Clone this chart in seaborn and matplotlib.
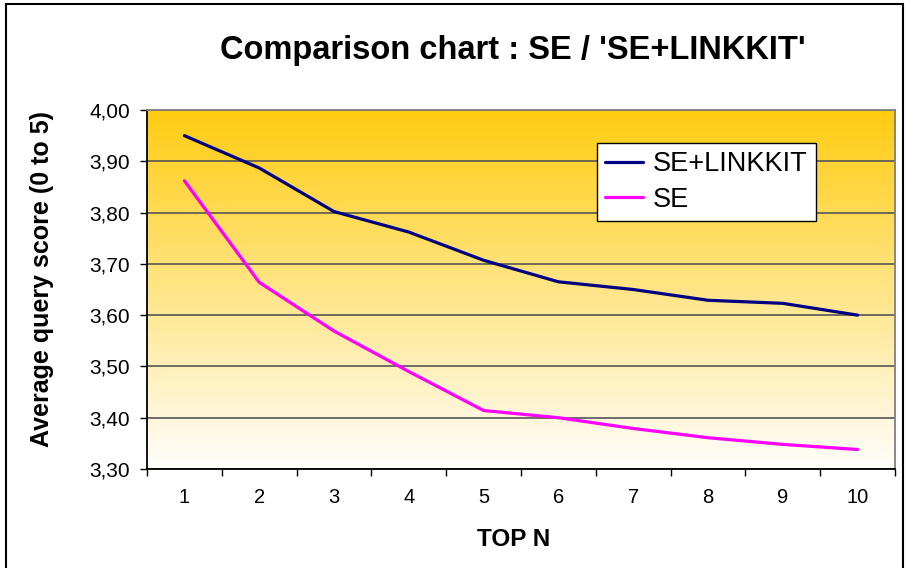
import numpy as np
import pandas as pd
import matplotlib
matplotlib.use("Agg")
import matplotlib.pyplot as plt
from matplotlib.colors import LinearSegmentedColormap
from matplotlib.patches import Rectangle
from matplotlib.ticker import FixedLocator, FixedFormatter
import seaborn as sns

# Average query score per TOP N cut-off
top_n = [1, 2, 3, 4, 5, 6, 7, 8, 9, 10]
se_linkkit = [3.950, 3.887, 3.802, 3.762, 3.707, 3.665, 3.650, 3.629, 3.623, 3.600]
se = [3.862, 3.664, 3.569, 3.490, 3.414, 3.400, 3.379, 3.361, 3.348, 3.338]

series_names = ["SE+LINKKIT", "SE"]
y_ticks = [3.30, 3.40, 3.50, 3.60, 3.70, 3.80, 3.90, 4.00]
y_tick_labels = ["3,30", "3,40", "3,50", "3,60", "3,70", "3,80", "3,90", "4,00"]

df = pd.DataFrame({
    "TOP N": top_n * 2,
    "score": se_linkkit + se,
    "series": [series_names[0]] * len(top_n) + [series_names[1]] * len(top_n),
})

sns.set_style("white")
plt.rcParams["font.family"] = ["Liberation Sans", "DejaVu Sans"]
plt.rcParams.update({"text.color": "black", "axes.labelcolor": "black",
                     "xtick.color": "black", "ytick.color": "black"})

fig = plt.figure(figsize=(9.13, 5.68), dpi=100)
ax = fig.add_axes([147 / 913, 1 - 469 / 568, 748 / 913, 359 / 568])

# Gold-to-white vertical gradient behind the plot
grad = np.linspace(0, 1, 256).reshape(-1, 1)
cmap = LinearSegmentedColormap.from_list("gold", ["#FFFEFC", "#FFCC11"])
ax.imshow(grad, extent=[0.5, 10.5, 3.30, 4.00], origin="lower",
          aspect="auto", cmap=cmap, zorder=0, interpolation="bilinear")

sns.lineplot(data=df, x="TOP N", y="score", hue="series", hue_order=series_names,
             palette={"SE+LINKKIT": "#000080", "SE": "#FF00FF"},
             linewidth=2.3, ax=ax, legend=True, zorder=3)

ax.set_xlim(0.5, 10.5)
ax.set_ylim(3.30, 4.00)

# Category labels at centres, tick marks at the category boundaries
ax.xaxis.set_major_locator(FixedLocator(top_n))
ax.xaxis.set_major_formatter(FixedFormatter([str(v) for v in top_n]))
ax.xaxis.set_minor_locator(FixedLocator(np.arange(0.5, 11, 1.0)))
ax.tick_params(axis="x", which="major", length=0, pad=14, labelsize=14.5)
ax.tick_params(axis="x", which="minor", length=5, width=1, color="black",
               direction="out", bottom=True)

ax.yaxis.set_major_locator(FixedLocator(y_ticks))
ax.yaxis.set_major_formatter(FixedFormatter(y_tick_labels))
ax.tick_params(axis="y", which="major", length=5, width=1, color="black",
               direction="out", left=True, pad=7, labelsize=15)

ax.grid(axis="y", color="#555555", linewidth=1.2)
ax.grid(axis="x", visible=False)
ax.set_axisbelow("line")

for side in ["left", "bottom"]:
    ax.spines[side].set_color("black")
    ax.spines[side].set_linewidth(1.3)
for side in ["top", "right"]:
    ax.spines[side].set_color("#808080")
    ax.spines[side].set_linewidth(1.3)

ax.set_xlabel("")
ax.set_ylabel("")

leg = ax.legend(loc="upper left", bbox_to_anchor=(0.602, 0.908), fontsize=19.5,
                frameon=True, fancybox=False, framealpha=1, edgecolor="black",
                handlelength=1.4, handletextpad=0.35, borderpad=0.3,
                labelspacing=0.35, borderaxespad=0)
leg.get_frame().set_linewidth(1.0)
for line in leg.get_lines():
    line.set_linewidth(2.3)

fig.text(513 / 913, 1 - 50 / 568, "Comparison chart : SE / 'SE+LINKKIT'",
         ha="center", va="center", fontsize=23.5, fontweight="bold")
fig.text(514 / 913, 1 - 540 / 568, "TOP N", ha="center", va="center",
         fontsize=17.5, fontweight="bold")
fig.text(42 / 913, 1 - 279 / 568, "Average query score (0 to 5)", ha="center",
         va="center", rotation=90, fontsize=18, fontweight="bold")

# Chart area border
fig.patches.append(Rectangle((6 / 913, -0.05), 897 / 913, 1.05 - 4 / 568,
                             transform=fig.transFigure, fill=False,
                             edgecolor="black", linewidth=1.5))

fig.savefig("out.png", dpi=100, facecolor="white")
